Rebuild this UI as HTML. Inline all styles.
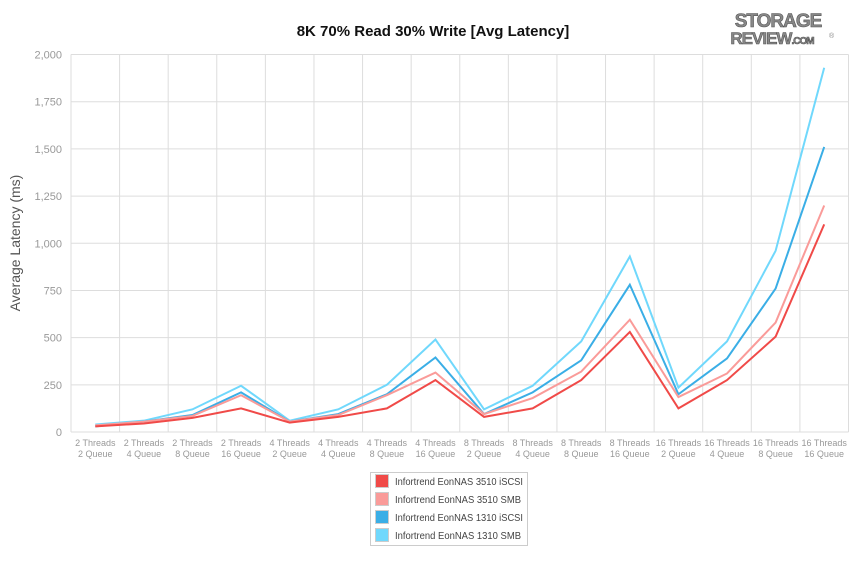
<!DOCTYPE html>
<html><head><meta charset="utf-8"><style>
body{margin:0;background:#fff;font-family:"Liberation Sans",sans-serif;}
svg text{font-family:"Liberation Sans",sans-serif;}
</style></head><body>
<svg id="chart" width="850" height="567" xmlns="http://www.w3.org/2000/svg">
<rect width="850" height="567" fill="#fff"/>
<text x="433" y="36" text-anchor="middle" font-size="15" font-weight="bold" fill="#111">8K 70% Read 30% Write [Avg Latency]</text>
<g>
<text x="778" y="27" text-anchor="middle" font-size="19" font-weight="bold" fill="#888" stroke="#555" stroke-width="0.6" letter-spacing="-1">STORAGE</text>
<text x="772" y="44" text-anchor="middle" font-size="17" font-weight="bold" fill="#888" stroke="#555" stroke-width="0.6" letter-spacing="-1">REVIEW<tspan font-size="10">.COM</tspan></text>
<text x="829" y="38" font-size="7" fill="#888">®</text>
</g>
<g id="grid"></g>
<g id="axes"></g>
<g id="lines"></g>
<text transform="translate(20,243) rotate(-90)" text-anchor="middle" font-size="14" fill="#555">Average Latency (ms)</text>
<g id="legend">
<rect x="370.5" y="472.5" width="157" height="73" fill="#fff" stroke="#ccc"/>
</g>
</svg>
<script>
const categories=[["2 Threads","2 Queue"],["2 Threads","4 Queue"],["2 Threads","8 Queue"],["2 Threads","16 Queue"],["4 Threads","2 Queue"],["4 Threads","4 Queue"],["4 Threads","8 Queue"],["4 Threads","16 Queue"],["8 Threads","2 Queue"],["8 Threads","4 Queue"],["8 Threads","8 Queue"],["8 Threads","16 Queue"],["16 Threads","2 Queue"],["16 Threads","4 Queue"],["16 Threads","8 Queue"],["16 Threads","16 Queue"]];
const seriesNames=["Infortrend EonNAS 3510 iSCSI","Infortrend EonNAS 3510 SMB","Infortrend EonNAS 1310 iSCSI","Infortrend EonNAS 1310 SMB"];
const s3510iscsi=[30,45,75,125,50,80,125,275,80,125,275,530,125,275,505,1100];
const s3510smb=[35,55,85,195,55,90,195,315,95,180,320,595,185,310,580,1200];
const s1310iscsi=[30,55,90,210,55,95,200,395,95,210,380,780,200,390,760,1510];
const s1310smb=[40,60,120,245,60,120,250,490,120,245,480,930,235,480,960,1930];
const yTicks=[0,250,500,750,1000,1250,1500,1750,2000];
const yTickLabels=["0","250","500","750","1,000","1,250","1,500","1,750","2,000"];
const colors=["#f04a48","#fa9b99","#3aaee6","#70d8fc"];
const NS="http://www.w3.org/2000/svg";
const L=71,R=848.5,T=54.5,B=432,yMax=2000;
const bw=(R-L)/categories.length;
const xs=i=>L+bw*(i+0.5);
const ys=v=>B-(v/yMax)*(B-T);
function mk(tag,attrs,parent){const e=document.createElementNS(NS,tag);for(const k in attrs)e.setAttribute(k,attrs[k]);parent.appendChild(e);return e;}
const grid=document.getElementById('grid'),axes=document.getElementById('axes'),lines=document.getElementById('lines');
yTicks.forEach((t,i)=>{
 const ln=mk('line',{x1:L,x2:R,y1:ys(t),y2:ys(t),stroke:'#ddd','stroke-width':1},grid);
 
 
 const tx=mk('text',{x:L-9,y:ys(t)+4,'text-anchor':'end','font-size':11,fill:'#999'},axes);
 tx.textContent=yTickLabels[i];
 
 
});
for(let i=0;i<=categories.length;i++){
 const ln=mk('line',{x1:L+bw*i,x2:L+bw*i,y1:T,y2:B,stroke:'#ddd','stroke-width':1},grid);
 
 
}
categories.forEach((c,i)=>{
 const tx=mk('text',{x:xs(i),y:446,'text-anchor':'middle','font-size':9,fill:'#999'},axes);
 
 
 const a=mk('tspan',{x:xs(i),dy:0},tx);a.textContent=c[0];
 const b=mk('tspan',{x:xs(i),dy:11},tx);b.textContent=c[1];
});
const all=[s3510iscsi,s3510smb,s1310iscsi,s1310smb];
const names=['line-3510-iscsi','line-3510-smb','line-1310-iscsi','line-1310-smb'];
[3,2,1,0].forEach(k=>{
 const p=mk('polyline',{points:all[k].map((v,i)=>xs(i)+','+ys(v)).join(' '),fill:'none',stroke:colors[k],'stroke-width':2,'stroke-linejoin':'miter'},lines);
 
 
});
const lg=document.getElementById('legend');
const legendWidths=[128,126,128,126];
seriesNames.forEach((n,i)=>{
 const y=481+i*18;
 const g=mk('g',{},lg);
 
 
 mk('rect',{x:375.5,y:y-6.5,width:13,height:13,fill:colors[i],stroke:'#ccc'},g);
 const t=mk('text',{x:395,y:y+4,'font-size':10.5,fill:'#444',textLength:legendWidths[i],lengthAdjust:'spacingAndGlyphs'},g);t.textContent=n;
});
</script>
</body></html>
